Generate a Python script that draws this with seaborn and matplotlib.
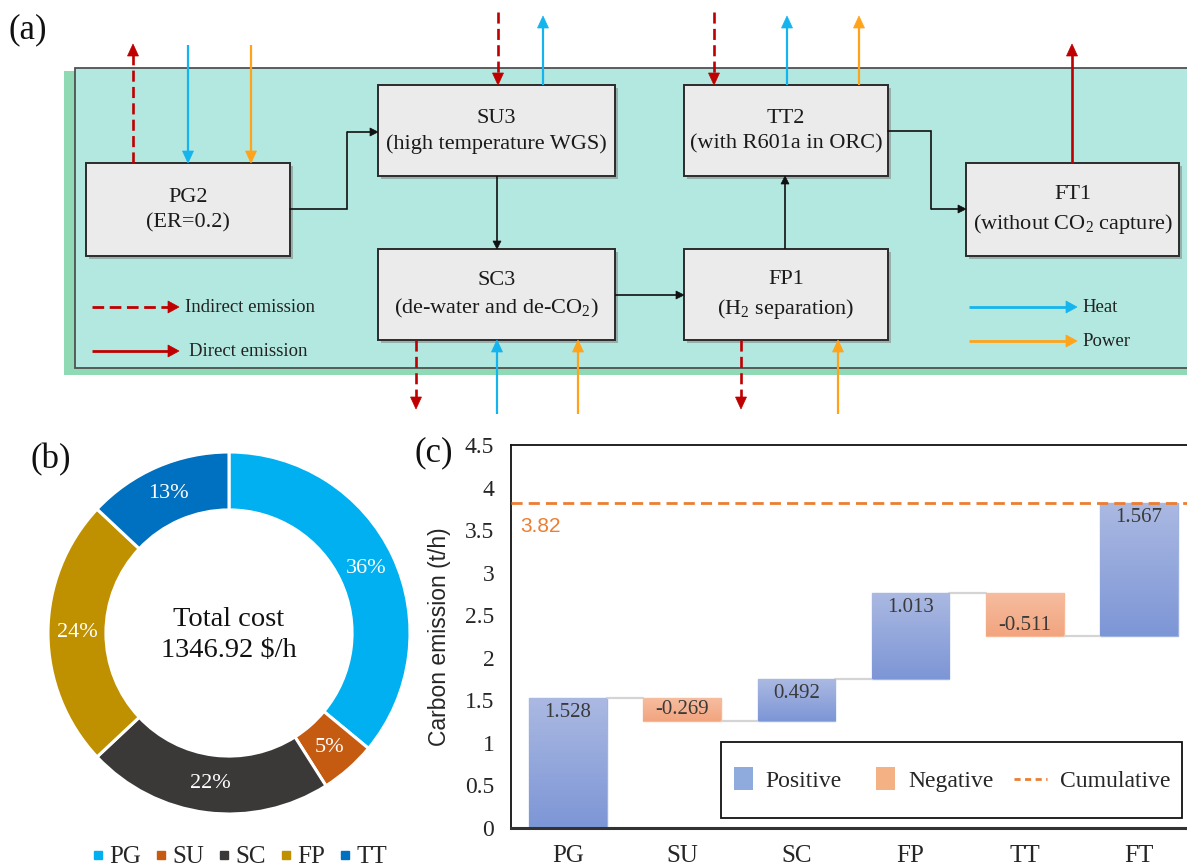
import numpy as np
import pandas as pd
import matplotlib
matplotlib.use("Agg")
import matplotlib.pyplot as plt
import seaborn as sns
from matplotlib.patches import Rectangle, Polygon, Patch
from matplotlib.lines import Line2D
from matplotlib.colors import LinearSegmentedColormap
from matplotlib.legend_handler import HandlerPatch

# ---------------- data ----------------
cost_units = ["PG", "SU", "SC", "FP", "TT"]
cost_share = [36, 5, 22, 24, 13]
total_cost = "1346.92"

stages = ["PG", "SU", "SC", "FP", "TT", "FT"]
emission_delta = [1.528, -0.269, 0.492, 1.013, -0.511, 1.567]
cumulative_total = 3.82
y_ticks = [0, 0.5, 1, 1.5, 2, 2.5, 3, 3.5, 4, 4.5]

# ---------------- style ----------------
sns.set_style("white")
plt.rcParams["font.family"] = ["Liberation Serif", "DejaVu Sans"]
plt.rcParams["mathtext.fontset"] = "custom"
plt.rcParams["mathtext.rm"] = "Liberation Serif"
plt.rcParams["mathtext.it"] = "Liberation Serif:italic"
plt.rcParams["mathtext.bf"] = "Liberation Serif:bold"

W, H = 1187, 868
fig = plt.figure(figsize=(W / 100, H / 100), dpi=100)
fig.patch.set_facecolor("white")

# ---------------- panel (a): flow diagram on overlay axes (pixel units) ----------------
ov = fig.add_axes([0, 0, 1, 1])
ov.set_xlim(0, W)
ov.set_ylim(H, 0)
ov.axis("off")

RED = "#c00000"
BLUE = "#14b4ee"
ORANGE = "#ffa31a"

ov.add_patch(Rectangle((64, 71), 1140, 304, fc="#8fdab5", ec="none", zorder=1))
ov.add_patch(Rectangle((75, 68), 1140, 300, fc="#b3e8e0", ec="#505050", lw=1.3, zorder=2))


def box(x0, y0, x1, y1, txt):
    ov.add_patch(Rectangle((x0 + 2.5, y0 + 2.5), x1 - x0, y1 - y0, fc="#808080",
                           ec="none", alpha=0.55, zorder=3))
    ov.add_patch(Rectangle((x0, y0), x1 - x0, y1 - y0, fc="#ebebeb", ec="#2b2b2b",
                           lw=1.4, zorder=4))
    ov.text((x0 + x1) / 2, (y0 + y1) / 2 + 1, txt, ha="center", va="center",
            fontsize=16, linespacing=1.42, color="#1a1a1a", zorder=5)


def arrow(x0, y0, x1, y1, color, dashed=False, lw=1.6, hl=12, hw=5.5, z=6):
    dx, dy = x1 - x0, y1 - y0
    L = np.hypot(dx, dy)
    ux, uy = dx / L, dy / L
    xe, ye = x1 - ux * hl, y1 - uy * hl
    ls = (0, (4.2, 2.0)) if dashed else "-"
    ov.plot([x0, xe + ux * 1], [y0, ye + uy * 1], color=color, lw=lw, ls=ls,
            solid_capstyle="butt", dash_capstyle="butt", zorder=z)
    px, py = -uy, ux
    ov.add_patch(Polygon([(x1, y1), (xe + px * hw, ye + py * hw), (xe - px * hw, ye - py * hw)],
                         closed=True, fc=color, ec=color, lw=0.5, zorder=z))


def poly_arrow(pts, color="#111111", lw=1.2):
    xs = [p[0] for p in pts]
    ys = [p[1] for p in pts]
    ov.plot(xs[:-1], ys[:-1], color=color, lw=lw, zorder=5, solid_joinstyle="miter")
    arrow(xs[-2], ys[-2], xs[-1], ys[-1], color, lw=lw, hl=8, hw=4, z=5)


box(86, 163, 290, 256, "PG2\n(ER=0.2)")
box(378, 85, 615, 176, "SU3\n(high temperature WGS)")
box(378, 249, 615, 340, "SC3\n(de-water and de-CO$_2$)")
box(684, 85, 888, 176, "TT2\n(with R601a in ORC)")
box(684, 249, 888, 340, "FP1\n(H$_2$ separation)")
box(966, 163, 1179, 256, "FT1\n(without CO$_2$ capture)")

# internal connections
poly_arrow([(290, 209), (347, 209), (347, 132), (378, 132)])
poly_arrow([(497, 176), (497, 249)])
poly_arrow([(615, 295), (684, 295)])
poly_arrow([(785, 249), (785, 176)])
poly_arrow([(888, 131), (931, 131), (931, 209), (966, 209)])

# external flows
arrow(133, 163, 133, 44, RED, dashed=True, lw=1.9)
arrow(188, 45, 188, 163, BLUE)
arrow(251, 45, 251, 163, ORANGE)
arrow(498, 12, 498, 85, RED, dashed=True, lw=1.9)
arrow(543, 85, 543, 16, BLUE)
arrow(714, 12, 714, 85, RED, dashed=True, lw=1.9)
arrow(787, 85, 787, 16, BLUE)
arrow(859, 85, 859, 16, ORANGE)
arrow(1072, 163, 1072, 44, RED, lw=1.9)
arrow(416, 340, 416, 409, RED, dashed=True, lw=1.9)
arrow(497, 414, 497, 340, BLUE)
arrow(578, 414, 578, 340, ORANGE)
arrow(741, 340, 741, 409, RED, dashed=True, lw=1.9)
arrow(838, 414, 838, 340, ORANGE)

# legend of panel (a)
arrow(92, 307, 179, 307, RED, dashed=True, lw=2.0, hl=11, hw=6)
ov.text(185, 308, "Indirect emission", fontsize=13.5, va="center", ha="left", color="#222222", zorder=6)
arrow(92, 351, 179, 351, RED, lw=2.0, hl=11, hw=6)
ov.text(189, 352, "Direct emission", fontsize=13.5, va="center", ha="left", color="#222222", zorder=6)
arrow(969, 307, 1077, 307, BLUE, lw=2.0, hl=11, hw=6)
ov.text(1082, 308, "Heat", fontsize=13.5, va="center", ha="left", color="#222222", zorder=6)
arrow(969, 341, 1077, 341, ORANGE, lw=2.0, hl=11, hw=6)
ov.text(1082, 342, "Power", fontsize=13.5, va="center", ha="left", color="#222222", zorder=6)

ov.text(9, 30, "(a)", fontsize=25, ha="left", va="center", color="#111111")
ov.text(30, 460, "(b)", fontsize=25, ha="left", va="center", color="#111111")
ov.text(414, 453, "(c)", fontsize=25, ha="left", va="center", color="#111111")

# ---------------- panel (b): donut ----------------
cx, cy, rpx = 229, 633, 181
half = 195
axb = fig.add_axes([(cx - half) / W, (H - cy - half) / H, 2 * half / W, 2 * half / H])
donut_colors = ["#00b0f0", "#c55a11", "#3b3838", "#bf9000", "#0070c0"]
wedges, texts, autotexts = axb.pie(
    cost_share, colors=donut_colors, startangle=90, counterclock=False,
    radius=1.0, wedgeprops=dict(width=0.32, edgecolor="white", linewidth=2.2),
    autopct=lambda p: f"{p:.0f}%", pctdistance=0.84,
    textprops=dict(color="white", fontsize=16))
R = half / rpx
axb.set_xlim(-R, R)
axb.set_ylim(-R, R)
axb.set_aspect("equal")
axb.axis("off")
axb.text(0, 0.075, "Total cost", ha="center", va="center", fontsize=20.5, color="#111111")
axb.text(0, -0.095, f"{total_cost} \\$/h", ha="center", va="center", fontsize=20.5, color="#111111")

leg_handles = [Line2D([0], [0], marker="s", ls="none", color=c, markersize=5.5) for c in donut_colors]
fig.legend(leg_handles, cost_units, loc="center", bbox_to_anchor=(240 / W, (H - 857) / H),
           ncol=5, frameon=False, fontsize=18, handletextpad=0.25, columnspacing=0.6,
           handlelength=0.4, borderpad=0.0, borderaxespad=0.0)

# ---------------- panel (c): waterfall ----------------
left_px, right_px, top_px, bot_px = 511, 1196, 445, 828
axw, axh = right_px - left_px, bot_px - top_px
axc = fig.add_axes([left_px / W, (H - bot_px) / H, axw / W, axh / H])

cum = np.cumsum(emission_delta)
bottoms = [c - d if d >= 0 else c for c, d in zip(cum, emission_delta)]
kind = ["Positive" if d >= 0 else "Negative" for d in emission_delta]
df = pd.DataFrame({"stage": stages, "height": np.abs(emission_delta), "type": kind})

pos_col = "#8faadc"
neg_col = "#f4b183"
bar_w = 0.68
sns.barplot(data=df, x="stage", y="height", hue="type", order=stages,
            hue_order=["Positive", "Negative"], palette={"Positive": pos_col, "Negative": neg_col},
            dodge=False, width=bar_w, legend=False, ax=axc, saturation=1)

cmap_pos = LinearSegmentedColormap.from_list("p", ["#7d96d6", "#abb9e2"])
cmap_neg = LinearSegmentedColormap.from_list("n", ["#f2a57f", "#f6bd9f"])
grad = np.linspace(0, 1, 64).reshape(-1, 1)

bar_patches = [p for p in axc.patches if np.isfinite(p.get_height()) and p.get_height() > 0]
for p in bar_patches:
    i = int(round(p.get_x() + p.get_width() / 2))
    p.set_y(bottoms[i])
    p.set_height(abs(emission_delta[i]))
    positive = emission_delta[i] >= 0
    p.set_edgecolor("#9fb3e3" if positive else "#f7b995")
    p.set_linewidth(1.0)
    x0 = p.get_x()
    x1 = x0 + p.get_width()
    y0 = bottoms[i]
    y1 = y0 + abs(emission_delta[i])
    im = axc.imshow(grad, extent=[x0, x1, y0, y1], origin="lower", aspect="auto",
                    cmap=cmap_pos if positive else cmap_neg, zorder=p.get_zorder() + 0.1,
                    interpolation="bicubic")
    im.set_clip_path(p)

# connectors
for i in range(len(stages) - 1):
    axc.plot([i + bar_w / 2, i + 1 - bar_w / 2], [cum[i], cum[i]], color="#d4d4d4", lw=1.6, zorder=1)

# cumulative line
axc.axhline(cumulative_total, color="#ed7d31", ls=(0, (4.0, 2.2)), lw=2.0, zorder=3)
axc.text(-0.42, 3.54, f"{cumulative_total:.2f}", color="#ed7d31", fontsize=15,
         family=["Liberation Sans", "DejaVu Sans"], ha="left", va="center")

# value labels
for i, d in enumerate(emission_delta):
    if d >= 0:
        ypos = cum[i] - 0.17
    else:
        ypos = cum[i] + 0.13
    axc.text(i, ypos, f"{d:.3f}", ha="center", va="center", fontsize=15, color="#3a3a3a", zorder=5)

axc.set_xlim(-0.5, len(stages) - 0.5)
axc.set_ylim(0, 4.5)
axc.set_yticks(y_ticks)
axc.set_yticklabels([f"{t:g}" for t in y_ticks])
axc.set_xlabel("")
axc.set_ylabel("Carbon emission (t/h)", fontsize=16.5, family=["Liberation Sans", "DejaVu Sans"])
axc.yaxis.set_label_coords(-0.088, 0.5)
axc.tick_params(axis="y", length=0, pad=12, labelsize=17)
axc.tick_params(axis="x", length=0, pad=12, labelsize=18)
for s in ["left", "top", "right"]:
    axc.spines[s].set_color("#111111")
    axc.spines[s].set_linewidth(1.3)
axc.spines["bottom"].set_color("#333333")
axc.spines["bottom"].set_linewidth(2.2)
axc.set_facecolor("white")

# legend frame drawn separately, legend entries centered inside it
axc.add_patch(Rectangle(((721 - left_px) / axw, (bot_px - 818) / axh), 461 / axw, 76 / axh,
                        transform=axc.transAxes, fc="white", ec="#111111", lw=1.3, zorder=8))


def narrow_rect(legend, orig_handle, xdescent, ydescent, width, height, fontsize):
    w = 0.58 * width
    h = 1.35 * height
    return Rectangle((-xdescent + width - w, -ydescent + (height - h) / 2), w, h)


leg_c = [Patch(facecolor=pos_col, edgecolor="none", label="Positive"),
         Patch(facecolor=neg_col, edgecolor="none", label="Negative"),
         Line2D([0], [0], color="#ed7d31", ls=(0, (2.2, 1.6)), lw=2.0, label="Cumulative")]
lg = axc.legend(handles=leg_c, loc="center", ncol=3,
                bbox_to_anchor=((945 - left_px) / axw, (bot_px - 781) / axh),
                fontsize=17, frameon=False, borderpad=0.0,
                handlelength=1.4, handleheight=0.7, handletextpad=0.55, columnspacing=0.85,
                borderaxespad=0, handler_map={Patch: HandlerPatch(patch_func=narrow_rect)})
lg.set_zorder(9)

fig.savefig("out.png", dpi=100, facecolor="white")
